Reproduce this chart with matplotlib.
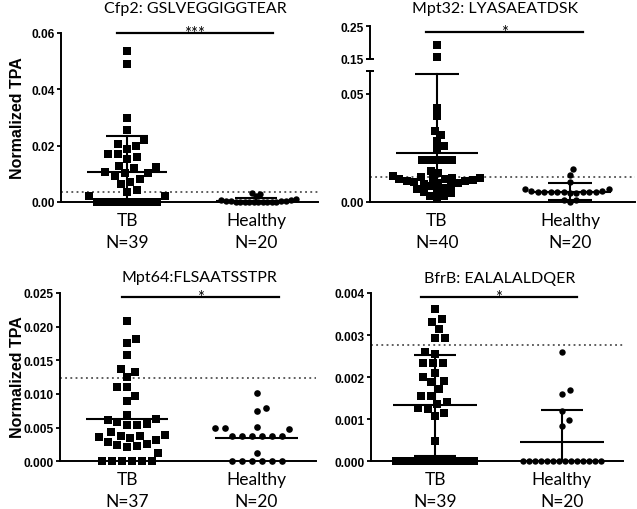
import numpy as np
import matplotlib
matplotlib.use("Agg")
import matplotlib.pyplot as plt
from matplotlib.transforms import blended_transform_factory

# ---------------- data ----------------
groups = ["TB", "Healthy"]

cfp2_title = "Cfp2: GSLVEGGIGGTEAR"
cfp2_n = ["N=39", "N=20"]
cfp2_tb = [0.0537, 0.0490, 0.0297, 0.0257, 0.0221, 0.0205, 0.0200, 0.0188, 0.0171,
           0.0169, 0.0159, 0.0151, 0.0129, 0.0124, 0.0120, 0.0105, 0.0103, 0.0103,
           0.0093, 0.0082, 0.0072, 0.0064, 0.0044, 0.0037, 0.0022, 0.0022,
           0, 0, 0, 0, 0, 0, 0, 0, 0, 0, 0, 0, 0]
cfp2_hc = [0.0032, 0.0028, 0.0020, 0.0010, 0.0008, 0.0006, 0.0005, 0.0004, 0.0003, 0.0002,
           0, 0, 0, 0, 0, 0, 0, 0, 0, 0]
cfp2_mean = [0.0105, 0.0005]
cfp2_sd = [0.0129, 0.0010]
cfp2_cutoff = 0.0034
cfp2_sig = "***"
cfp2_yticks = [0.00, 0.02, 0.04, 0.06]
cfp2_ylabels = ["0.00", "0.02", "0.04", "0.06"]

mpt32_title = "Mpt32: LYASAEATDSK"
mpt32_n = ["N=40", "N=20"]
mpt32_tb = [0.192, 0.157, 0.0434, 0.0397, 0.0327, 0.0311, 0.0283, 0.0257, 0.0248,
            0.0196, 0.0194, 0.0194, 0.0193, 0.0192, 0.0143, 0.0133, 0.0121,
            0.0114, 0.0113, 0.0111, 0.0109, 0.0106, 0.0104, 0.0101, 0.0098, 0.0095,
            0.0092, 0.0089, 0.0086, 0.0083, 0.0079, 0.0075,
            0.0063, 0.0060, 0.0052, 0.0048, 0.0042, 0.0026, 0.0026, 0.0017]
mpt32_hc = [0.0152, 0.0126, 0.0091, 0.0062, 0.0060, 0.0050, 0.0049, 0.0048, 0.0048, 0.0047,
            0.0046, 0.0046, 0.0045, 0.0045, 0.0044, 0.0043, 0.0042, 0.0010, 0.0008, 0.0]
mpt32_mean = [0.0225, 0.0048]
mpt32_sd = [0.0366, 0.0038]
mpt32_cutoff = 0.0117
mpt32_sig = "*"
mpt32_yticks_low = [0.00, 0.05]
mpt32_ylabels_low = ["0.00", "0.05"]
mpt32_yticks_high = [0.15, 0.25]
mpt32_ylabels_high = ["0.15", "0.25"]

mpt64_title = "Mpt64:FLSAATSSTPR"
mpt64_n = ["N=37", "N=20"]
mpt64_tb = [0.0208, 0.0181, 0.0175, 0.0158, 0.0137, 0.0133, 0.0125, 0.0111, 0.0110,
            0.0097, 0.0089, 0.0069, 0.0063, 0.0061, 0.0058, 0.0056, 0.0054, 0.0054,
            0.0044, 0.0039, 0.0038, 0.0038, 0.0036, 0.0035, 0.0031, 0.0029, 0.0026,
            0.0024, 0.0023, 0.0021, 0.0012, 0, 0, 0, 0, 0, 0]
mpt64_hc = [0.0101, 0.0079, 0.0075, 0.0051, 0.0050, 0.0049, 0.0048, 0.0038, 0.0038,
            0.0038, 0.0038, 0.0038, 0.0038, 0.0013, 0, 0, 0, 0, 0, 0]
mpt64_mean = [0.0063, 0.0035]
mpt64_cutoff = 0.0124
mpt64_sig = "*"
mpt64_yticks = [0.000, 0.005, 0.010, 0.015, 0.020, 0.025]
mpt64_ylabels = ["0.000", "0.005", "0.010", "0.015", "0.020", "0.025"]

bfrb_title = "BfrB: EALALALDQER"
bfrb_n = ["N=39", "N=20"]
bfrb_tb = [0.00362, 0.00338, 0.00332, 0.00314, 0.00292, 0.00292, 0.00259, 0.00256,
           0.00234, 0.00233, 0.00233, 0.00210, 0.00200, 0.00192, 0.00188, 0.00172,
           0.00156, 0.00156, 0.00140, 0.00136, 0.00126, 0.00124, 0.00115, 0.00107,
           0.00049, 0, 0, 0, 0, 0, 0, 0, 0, 0, 0, 0, 0, 0, 0]
bfrb_hc = [0.00259, 0.00170, 0.00160, 0.00120, 0.00099, 0.00085,
           0, 0, 0, 0, 0, 0, 0, 0, 0, 0, 0, 0, 0, 0]
bfrb_mean = [0.00133, 0.00045]
bfrb_sd = [0.00120, 0.00077]
bfrb_cutoff = 0.00277
bfrb_sig = "*"
bfrb_yticks = [0.000, 0.001, 0.002, 0.003, 0.004]
bfrb_ylabels = ["0.000", "0.001", "0.002", "0.003", "0.004"]

ylabel = "Normalized TPA"

# ---------------- styling ----------------
W, H = 637, 510
TXT = ["Lato", "DejaVu Sans"]
NUM = ["Liberation Sans", "DejaVu Sans"]
plt.rcParams["font.family"] = NUM
fig = plt.figure(figsize=(W / 100, H / 100), dpi=100)


def frac(l, t, r, b):
    return [l / W, 1 - b / H, (r - l) / W, (b - t) / H]


def style_axis(ax, yticks, ylabels):
    for s in ("top", "right"):
        ax.spines[s].set_visible(False)
    for s in ("left", "bottom"):
        ax.spines[s].set_linewidth(1.4)
    ax.set_yticks(yticks)
    ax.set_yticklabels(ylabels, fontsize=8.6, fontweight="bold", family=NUM)
    ax.tick_params(axis="y", length=3, width=1.3, pad=1.5)
    ax.tick_params(axis="x", length=0)
    ax.set_xticks([])


def swarm(ax, vals, d, tie_px, tie_min=6):
    """Deterministic beeswarm (pixel space): x offsets in data units."""
    vals = np.asarray(vals, dtype=float)
    bb = ax.bbox
    x0, x1 = ax.get_xlim()
    y0, y1 = ax.get_ylim()
    ppx = bb.width / (x1 - x0)
    ppy = bb.height / (y1 - y0)
    order = list(np.argsort(vals, kind="stable"))
    uniq, counts = np.unique(vals, return_counts=True)
    ties = {u for u, c in zip(uniq, counts) if c >= tie_min}
    off = np.zeros(len(vals))
    placed = []
    done = set()
    for idx in order:
        v = vals[idx]
        if v in ties:
            if v in done:
                continue
            members = [j for j in order if vals[j] == v]
            n = len(members)
            xs = (np.arange(n) - (n - 1) / 2) * tie_px
            for j, x in zip(members, xs):
                off[j] = x / ppx
                placed.append((x, v * ppy))
            done.add(v)
            continue
        y = v * ppy
        cands = [0.0]
        for px, py in placed:
            dy = abs(y - py)
            if dy < d:
                dx = np.sqrt(d * d - dy * dy)
                cands += [px + dx, px - dx]
        cands.sort(key=lambda c: (round(abs(c), 6), c < 0))
        for x in cands:
            if all((x - px) ** 2 + (y - py) ** 2 >= d * d - 1e-6 for px, py in placed):
                break
        off[idx] = x / ppx
        placed.append((x, y))
    return off


def draw_group(ax_list, pos, vals, marker, ms, d, tie_px, ref_ax):
    off = swarm(ref_ax, vals, d, tie_px)
    vals = np.asarray(vals, dtype=float)
    for ax in ax_list:
        lo, hi = ax.get_ylim()
        sel = (vals >= lo - 1e-12) & (vals <= hi)
        ax.plot(pos + off[sel], vals[sel], linestyle="none", marker=marker, ms=ms,
                color="black", mec="black", mew=0, clip_on=False, zorder=3)


def mean_sd(ax, pos, mean, sd, mhalf=0.31, chalf=0.165, lw=1.5):
    ax.plot([pos - mhalf, pos + mhalf], [mean, mean], color="black", lw=lw, zorder=4,
            solid_capstyle="butt")
    if sd is not None:
        top = mean + sd
        bot = max(mean - sd, ax.get_ylim()[0])
        ax.plot([pos, pos], [bot, top], color="black", lw=lw, zorder=4)
        ax.plot([pos - chalf, pos + chalf], [top, top], color="black", lw=lw, zorder=4,
                solid_capstyle="butt")
        if mean - sd > ax.get_ylim()[0]:
            ax.plot([pos - chalf, pos + chalf], [bot, bot], color="black", lw=lw,
                    zorder=4, solid_capstyle="butt")


def cutoff_line(ax, y):
    ax.axhline(y, color="#333333", lw=1.1, linestyle=(0, (1.2, 2.2)), zorder=1)


def sig_bar(ax, x0, x1, y, text):
    ax.plot([x0, x1], [y, y], color="black", lw=1.6, clip_on=False, zorder=5)
    ax.annotate(text, xy=((x0 + x1) / 2, y), xytext=(0, -3.5), textcoords="offset points",
                ha="center", va="baseline", fontsize=12, family=TXT,
                annotation_clip=False)


def group_labels(ax, n_labels):
    tr = blended_transform_factory(ax.transData, ax.transAxes)
    for p, g, n in zip([0, 1], groups, n_labels):
        ax.annotate(g, xy=(p, 0), xycoords=tr, xytext=(0, -18 * 0.72),
                    textcoords="offset points", ha="center", va="center",
                    fontsize=12.5, family=TXT)
        ax.annotate(n, xy=(p, 0), xycoords=tr, xytext=(0, -40 * 0.72),
                    textcoords="offset points", ha="center", va="center",
                    fontsize=12.5, family=TXT)


def title(ax, xdata, ypix, text):
    tr = blended_transform_factory(ax.transData, fig.transFigure)
    ax.text(xdata, 1 - ypix / H, text, transform=tr, ha="center", va="center",
            fontsize=11.5, family=TXT)


# ---------------- panel 1: Cfp2 ----------------
ax1 = fig.add_axes(frac(61, 34, 318, 203))
ax1.set_xlim(-0.5116, 1.4805)
ax1.set_ylim(0, 0.06)
style_axis(ax1, cfp2_yticks, cfp2_ylabels)
cutoff_line(ax1, cfp2_cutoff)
draw_group([ax1], 0, cfp2_tb, "s", 5.3, 10, 5, ax1)
draw_group([ax1], 1, cfp2_hc, "o", 4.6, 5, 4.5, ax1)
mean_sd(ax1, 0, cfp2_mean[0], cfp2_sd[0])
mean_sd(ax1, 1, cfp2_mean[1], cfp2_sd[1])
sig_bar(ax1, -0.078, 1.13, 0.06, cfp2_sig)
group_labels(ax1, cfp2_n)
title(ax1, 0.53, 9, cfp2_title)
fig.text(18 / W, 1 - 118.5 / H, ylabel, rotation=90, ha="center", va="center",
         fontsize=11.5, fontweight="bold", family=NUM)

# ---------------- panel 2: Mpt32 (broken axis) ----------------
ax2 = fig.add_axes(frac(370, 72, 635, 203))
ax2t = fig.add_axes(frac(370, 27, 635, 60))
for a in (ax2, ax2t):
    a.set_xlim(-0.5037, 1.4887)
    a.patch.set_alpha(0)
ax2.set_ylim(0, 0.0605)
ax2t.set_ylim(0.15, 0.25)
style_axis(ax2, mpt32_yticks_low, mpt32_ylabels_low)
style_axis(ax2t, mpt32_yticks_high, mpt32_ylabels_high)
ax2t.spines["bottom"].set_visible(False)
for a, yy in ((ax2, 1.0), (ax2t, 0.0)):
    a.plot([0.0], [yy], marker="_", ms=6, mew=1.4, color="black",
           transform=a.transAxes, clip_on=False)
cutoff_line(ax2, mpt32_cutoff)
draw_group([ax2, ax2t], 0, mpt32_tb, "s", 5.3, 7.5, 5, ax2)
draw_group([ax2, ax2t], 1, mpt32_hc, "o", 4.6, 6.5, 5, ax2)
mean_sd(ax2, 0, mpt32_mean[0], mpt32_sd[0])
mean_sd(ax2, 1, mpt32_mean[1], mpt32_sd[1])
sig_bar(ax2t, -0.085, 1.098, 0.231, mpt32_sig)
group_labels(ax2, mpt32_n)
title(ax2, 0.44, 9, mpt32_title)

# ---------------- panel 3: Mpt64 ----------------
ax3 = fig.add_axes(frac(60, 294, 316, 462.3))
ax3.set_xlim(-0.5174, 1.4593)
ax3.set_ylim(0, 0.025)
style_axis(ax3, mpt64_yticks, mpt64_ylabels)
cutoff_line(ax3, mpt64_cutoff)
draw_group([ax3], 0, mpt64_tb, "s", 5.3, 10, 10, ax3)
draw_group([ax3], 1, mpt64_hc, "o", 4.8, 10, 10, ax3)
mean_sd(ax3, 0, mpt64_mean[0], None, mhalf=0.32)
mean_sd(ax3, 1, mpt64_mean[1], None, mhalf=0.32)
sig_bar(ax3, -0.04, 1.17, 0.02436, mpt64_sig)
group_labels(ax3, mpt64_n)
title(ax3, 0.56, 278, mpt64_title)
fig.text(18 / W, 1 - 377 / H, ylabel, rotation=90, ha="center", va="center",
         fontsize=11.5, fontweight="bold", family=NUM)

# ---------------- panel 4: BfrB ----------------
ax4 = fig.add_axes(frac(370.7, 294, 623, 462.3))
ax4.set_xlim(-0.5075, 1.4838)
ax4.set_ylim(0, 0.004)
style_axis(ax4, bfrb_yticks, bfrb_ylabels)
cutoff_line(ax4, bfrb_cutoff)
draw_group([ax4], 0, bfrb_tb, "s", 5.3, 10, 6, ax4)
draw_group([ax4], 1, bfrb_hc, "o", 4.6, 9, 6, ax4)
mean_sd(ax4, 0, bfrb_mean[0], bfrb_sd[0], mhalf=0.33)
mean_sd(ax4, 1, bfrb_mean[1], bfrb_sd[1], mhalf=0.33)
sig_bar(ax4, -0.11, 1.12, 0.0039, bfrb_sig)
group_labels(ax4, bfrb_n)
title(ax4, 0.51, 279, bfrb_title)

fig.savefig("out.png", dpi=100)
